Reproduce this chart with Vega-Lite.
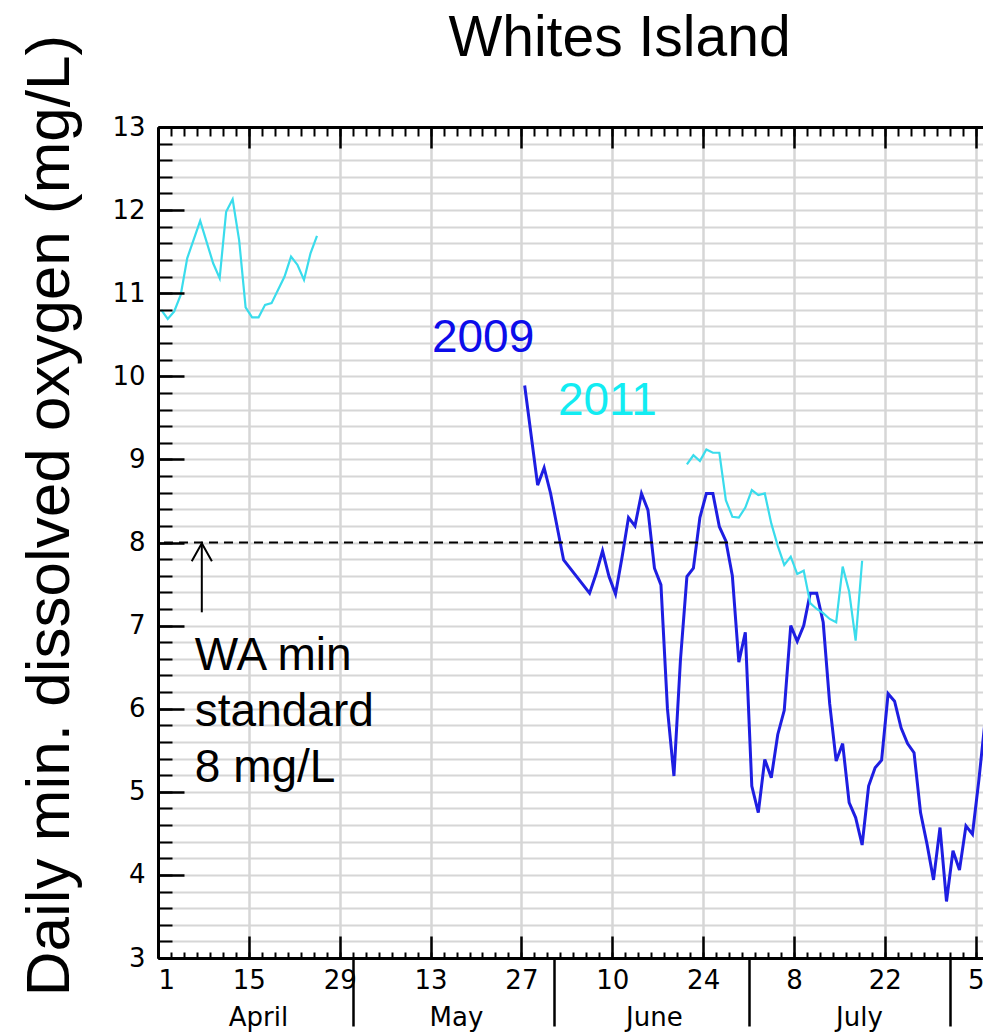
{
  "$schema": "https://vega.github.io/schema/vega-lite/v6.json",
  "width": 825,
  "height": 831,
  "autosize": {"type": "none"},
  "padding": {"left": 158, "top": 127, "right": 0, "bottom": 74},
  "background": "white",
  "config": {"view": {"stroke": null}, "font": "Liberation Sans"},
  "title": {
    "text": "Whites Island",
    "font": "Liberation Sans",
    "fontSize": 57,
    "fontWeight": "normal",
    "color": "black",
    "anchor": "middle",
    "frame": "group",
    "dx": 49,
    "offset": -79,
    "baseline": "alphabetic"
  },
  "datasets": {
    "do": [
      {"date": "2011-04-01T12:00:00", "year": 2011, "deploy": "a", "do": 10.80},
      {"date": "2011-04-02T12:00:00", "year": 2011, "deploy": "a", "do": 10.69},
      {"date": "2011-04-03T12:00:00", "year": 2011, "deploy": "a", "do": 10.78},
      {"date": "2011-04-04T12:00:00", "year": 2011, "deploy": "a", "do": 10.98},
      {"date": "2011-04-05T12:00:00", "year": 2011, "deploy": "a", "do": 11.42},
      {"date": "2011-04-07T12:00:00", "year": 2011, "deploy": "a", "do": 11.87},
      {"date": "2011-04-09T12:00:00", "year": 2011, "deploy": "a", "do": 11.36},
      {"date": "2011-04-10T12:00:00", "year": 2011, "deploy": "a", "do": 11.18},
      {"date": "2011-04-11T12:00:00", "year": 2011, "deploy": "a", "do": 11.98},
      {"date": "2011-04-12T12:00:00", "year": 2011, "deploy": "a", "do": 12.13},
      {"date": "2011-04-13T12:00:00", "year": 2011, "deploy": "a", "do": 11.64},
      {"date": "2011-04-14T12:00:00", "year": 2011, "deploy": "a", "do": 10.83},
      {"date": "2011-04-15T12:00:00", "year": 2011, "deploy": "a", "do": 10.71},
      {"date": "2011-04-16T12:00:00", "year": 2011, "deploy": "a", "do": 10.71},
      {"date": "2011-04-17T12:00:00", "year": 2011, "deploy": "a", "do": 10.86},
      {"date": "2011-04-18T12:00:00", "year": 2011, "deploy": "a", "do": 10.88},
      {"date": "2011-04-20T12:00:00", "year": 2011, "deploy": "a", "do": 11.20},
      {"date": "2011-04-21T12:00:00", "year": 2011, "deploy": "a", "do": 11.44},
      {"date": "2011-04-22T12:00:00", "year": 2011, "deploy": "a", "do": 11.34},
      {"date": "2011-04-23T12:00:00", "year": 2011, "deploy": "a", "do": 11.16},
      {"date": "2011-04-24T12:00:00", "year": 2011, "deploy": "a", "do": 11.48},
      {"date": "2011-04-25T12:00:00", "year": 2011, "deploy": "a", "do": 11.69},
      {"date": "2011-06-21T12:00:00", "year": 2011, "deploy": "b", "do": 8.94},
      {"date": "2011-06-22T12:00:00", "year": 2011, "deploy": "b", "do": 9.05},
      {"date": "2011-06-23T12:00:00", "year": 2011, "deploy": "b", "do": 8.98},
      {"date": "2011-06-24T12:00:00", "year": 2011, "deploy": "b", "do": 9.12},
      {"date": "2011-06-25T12:00:00", "year": 2011, "deploy": "b", "do": 9.08},
      {"date": "2011-06-26T12:00:00", "year": 2011, "deploy": "b", "do": 9.08},
      {"date": "2011-06-27T12:00:00", "year": 2011, "deploy": "b", "do": 8.51},
      {"date": "2011-06-28T12:00:00", "year": 2011, "deploy": "b", "do": 8.31},
      {"date": "2011-06-29T12:00:00", "year": 2011, "deploy": "b", "do": 8.30},
      {"date": "2011-06-30T12:00:00", "year": 2011, "deploy": "b", "do": 8.42},
      {"date": "2011-07-01T12:00:00", "year": 2011, "deploy": "b", "do": 8.63},
      {"date": "2011-07-02T12:00:00", "year": 2011, "deploy": "b", "do": 8.57},
      {"date": "2011-07-03T12:00:00", "year": 2011, "deploy": "b", "do": 8.59},
      {"date": "2011-07-04T12:00:00", "year": 2011, "deploy": "b", "do": 8.23},
      {"date": "2011-07-05T12:00:00", "year": 2011, "deploy": "b", "do": 7.96},
      {"date": "2011-07-06T12:00:00", "year": 2011, "deploy": "b", "do": 7.73},
      {"date": "2011-07-07T12:00:00", "year": 2011, "deploy": "b", "do": 7.83},
      {"date": "2011-07-08T12:00:00", "year": 2011, "deploy": "b", "do": 7.62},
      {"date": "2011-07-09T12:00:00", "year": 2011, "deploy": "b", "do": 7.66},
      {"date": "2011-07-10T12:00:00", "year": 2011, "deploy": "b", "do": 7.27},
      {"date": "2011-07-11T12:00:00", "year": 2011, "deploy": "b", "do": 7.20},
      {"date": "2011-07-12T12:00:00", "year": 2011, "deploy": "b", "do": 7.15},
      {"date": "2011-07-13T12:00:00", "year": 2011, "deploy": "b", "do": 7.08},
      {"date": "2011-07-14T12:00:00", "year": 2011, "deploy": "b", "do": 7.04},
      {"date": "2011-07-15T12:00:00", "year": 2011, "deploy": "b", "do": 7.71},
      {"date": "2011-07-16T12:00:00", "year": 2011, "deploy": "b", "do": 7.41},
      {"date": "2011-07-17T12:00:00", "year": 2011, "deploy": "b", "do": 6.82},
      {"date": "2011-07-18T12:00:00", "year": 2011, "deploy": "b", "do": 7.78},
      {"date": "2009-05-27T12:00:00", "year": 2009, "deploy": "c", "do": 9.89},
      {"date": "2009-05-29T12:00:00", "year": 2009, "deploy": "c", "do": 8.69},
      {"date": "2009-05-30T12:00:00", "year": 2009, "deploy": "c", "do": 8.90},
      {"date": "2009-05-31T12:00:00", "year": 2009, "deploy": "c", "do": 8.59},
      {"date": "2009-06-02T12:00:00", "year": 2009, "deploy": "c", "do": 7.79},
      {"date": "2009-06-06T12:00:00", "year": 2009, "deploy": "c", "do": 7.39},
      {"date": "2009-06-07T12:00:00", "year": 2009, "deploy": "c", "do": 7.62},
      {"date": "2009-06-08T12:00:00", "year": 2009, "deploy": "c", "do": 7.90},
      {"date": "2009-06-09T12:00:00", "year": 2009, "deploy": "c", "do": 7.59},
      {"date": "2009-06-10T12:00:00", "year": 2009, "deploy": "c", "do": 7.38},
      {"date": "2009-06-11T12:00:00", "year": 2009, "deploy": "c", "do": 7.82},
      {"date": "2009-06-12T12:00:00", "year": 2009, "deploy": "c", "do": 8.30},
      {"date": "2009-06-13T12:00:00", "year": 2009, "deploy": "c", "do": 8.20},
      {"date": "2009-06-14T12:00:00", "year": 2009, "deploy": "c", "do": 8.59},
      {"date": "2009-06-15T12:00:00", "year": 2009, "deploy": "c", "do": 8.39},
      {"date": "2009-06-16T12:00:00", "year": 2009, "deploy": "c", "do": 7.69},
      {"date": "2009-06-17T12:00:00", "year": 2009, "deploy": "c", "do": 7.49},
      {"date": "2009-06-18T12:00:00", "year": 2009, "deploy": "c", "do": 6.00},
      {"date": "2009-06-19T12:00:00", "year": 2009, "deploy": "c", "do": 5.19},
      {"date": "2009-06-20T12:00:00", "year": 2009, "deploy": "c", "do": 6.58},
      {"date": "2009-06-21T12:00:00", "year": 2009, "deploy": "c", "do": 7.59},
      {"date": "2009-06-22T12:00:00", "year": 2009, "deploy": "c", "do": 7.69},
      {"date": "2009-06-23T12:00:00", "year": 2009, "deploy": "c", "do": 8.30},
      {"date": "2009-06-24T12:00:00", "year": 2009, "deploy": "c", "do": 8.59},
      {"date": "2009-06-25T12:00:00", "year": 2009, "deploy": "c", "do": 8.59},
      {"date": "2009-06-26T12:00:00", "year": 2009, "deploy": "c", "do": 8.19},
      {"date": "2009-06-27T12:00:00", "year": 2009, "deploy": "c", "do": 8.02},
      {"date": "2009-06-28T12:00:00", "year": 2009, "deploy": "c", "do": 7.60},
      {"date": "2009-06-29T12:00:00", "year": 2009, "deploy": "c", "do": 6.56},
      {"date": "2009-06-30T12:00:00", "year": 2009, "deploy": "c", "do": 6.92},
      {"date": "2009-07-01T12:00:00", "year": 2009, "deploy": "c", "do": 5.07},
      {"date": "2009-07-02T12:00:00", "year": 2009, "deploy": "c", "do": 4.75},
      {"date": "2009-07-03T12:00:00", "year": 2009, "deploy": "c", "do": 5.39},
      {"date": "2009-07-04T12:00:00", "year": 2009, "deploy": "c", "do": 5.17},
      {"date": "2009-07-05T12:00:00", "year": 2009, "deploy": "c", "do": 5.69},
      {"date": "2009-07-06T12:00:00", "year": 2009, "deploy": "c", "do": 5.98},
      {"date": "2009-07-07T12:00:00", "year": 2009, "deploy": "c", "do": 7.00},
      {"date": "2009-07-08T12:00:00", "year": 2009, "deploy": "c", "do": 6.81},
      {"date": "2009-07-09T12:00:00", "year": 2009, "deploy": "c", "do": 7.00},
      {"date": "2009-07-10T12:00:00", "year": 2009, "deploy": "c", "do": 7.39},
      {"date": "2009-07-11T12:00:00", "year": 2009, "deploy": "c", "do": 7.39},
      {"date": "2009-07-12T12:00:00", "year": 2009, "deploy": "c", "do": 7.04},
      {"date": "2009-07-13T12:00:00", "year": 2009, "deploy": "c", "do": 6.06},
      {"date": "2009-07-14T12:00:00", "year": 2009, "deploy": "c", "do": 5.37},
      {"date": "2009-07-15T12:00:00", "year": 2009, "deploy": "c", "do": 5.58},
      {"date": "2009-07-16T12:00:00", "year": 2009, "deploy": "c", "do": 4.87},
      {"date": "2009-07-17T12:00:00", "year": 2009, "deploy": "c", "do": 4.69},
      {"date": "2009-07-18T12:00:00", "year": 2009, "deploy": "c", "do": 4.36},
      {"date": "2009-07-19T12:00:00", "year": 2009, "deploy": "c", "do": 5.07},
      {"date": "2009-07-20T12:00:00", "year": 2009, "deploy": "c", "do": 5.29},
      {"date": "2009-07-21T12:00:00", "year": 2009, "deploy": "c", "do": 5.38},
      {"date": "2009-07-22T12:00:00", "year": 2009, "deploy": "c", "do": 6.18},
      {"date": "2009-07-23T12:00:00", "year": 2009, "deploy": "c", "do": 6.09},
      {"date": "2009-07-24T12:00:00", "year": 2009, "deploy": "c", "do": 5.77},
      {"date": "2009-07-25T12:00:00", "year": 2009, "deploy": "c", "do": 5.58},
      {"date": "2009-07-26T12:00:00", "year": 2009, "deploy": "c", "do": 5.47},
      {"date": "2009-07-27T12:00:00", "year": 2009, "deploy": "c", "do": 4.75},
      {"date": "2009-07-28T12:00:00", "year": 2009, "deploy": "c", "do": 4.37},
      {"date": "2009-07-29T12:00:00", "year": 2009, "deploy": "c", "do": 3.94},
      {"date": "2009-07-30T12:00:00", "year": 2009, "deploy": "c", "do": 4.57},
      {"date": "2009-07-31T12:00:00", "year": 2009, "deploy": "c", "do": 3.68},
      {"date": "2009-08-01T12:00:00", "year": 2009, "deploy": "c", "do": 4.29},
      {"date": "2009-08-02T12:00:00", "year": 2009, "deploy": "c", "do": 4.06},
      {"date": "2009-08-03T12:00:00", "year": 2009, "deploy": "c", "do": 4.59},
      {"date": "2009-08-04T12:00:00", "year": 2009, "deploy": "c", "do": 4.49},
      {"date": "2009-08-05T12:00:00", "year": 2009, "deploy": "c", "do": 5.15},
      {"date": "2009-08-06T12:00:00", "year": 2009, "deploy": "c", "do": 5.90}
    ]
  },
  "layer": [
    {
      "data": {"name": "do"},
      "transform": [{"filter": "datum.year === 2009"}],
      "mark": {"type": "line", "color": "#1e1ee2", "strokeWidth": 3, "clip": true},
      "encoding": {
        "x": {
          "field": "date", "timeUnit": "monthdatehours", "type": "temporal",
          "scale": {"domain": [{"month": 4, "date": 1}, {"month": 8, "date": 6, "hours": 3}], "nice": false},
          "axis": {
            "orient": "bottom", "zindex": 0, "title": null,
            "values": [{"month": 4, "date": 1}, {"month": 4, "date": 15}, {"month": 4, "date": 29}, {"month": 5, "date": 13}, {"month": 5, "date": 27}, {"month": 6, "date": 10}, {"month": 6, "date": 24}, {"month": 7, "date": 8}, {"month": 7, "date": 22}, {"month": 8, "date": 5}],
            "labels": false, "ticks": false, "domain": false,
            "grid": true, "gridColor": "#d6d6d6", "gridWidth": 2.5
          }
        },
        "y": {
          "field": "do", "type": "quantitative",
          "scale": {"domain": [3, 13], "zero": false, "nice": false},
          "axis": {
            "orient": "left", "zindex": 0, "title": null,
            "values": [3.2, 3.4, 3.6, 3.8, 4, 4.2, 4.4, 4.6, 4.8, 5, 5.2, 5.4, 5.6, 5.8, 6, 6.2, 6.4, 6.6, 6.8, 7, 7.2, 7.4, 7.6, 7.8, 8, 8.2, 8.4, 8.6, 8.8, 9, 9.2, 9.4, 9.6, 9.8, 10, 10.2, 10.4, 10.6, 10.8, 11, 11.2, 11.4, 11.6, 11.8, 12, 12.2, 12.4, 12.6, 12.8],
            "labels": false, "ticks": false, "domain": false,
            "grid": true, "gridColor": "#d6d6d6", "gridWidth": 2
          }
        },
        "detail": {"field": "deploy"}
      }
    },
    {
      "data": {"name": "do"},
      "transform": [{"filter": "datum.year === 2011"}],
      "mark": {"type": "line", "color": "#3adcec", "strokeWidth": 2.2, "clip": true},
      "encoding": {
        "x": {
          "field": "date", "timeUnit": "monthdatehours", "type": "temporal",
          "scale": {"domain": [{"month": 4, "date": 1}, {"month": 8, "date": 6, "hours": 3}], "nice": false},
          "axis": {
            "orient": "bottom", "zindex": 1, "title": null,
            "values": [{"month": 4, "date": 1}, {"month": 4, "date": 15}, {"month": 4, "date": 29}, {"month": 5, "date": 13}, {"month": 5, "date": 27}, {"month": 6, "date": 10}, {"month": 6, "date": 24}, {"month": 7, "date": 8}, {"month": 7, "date": 22}, {"month": 8, "date": 5}],
            "format": "%-d", "labelFont": "DejaVu Sans", "labelFontSize": 26, "labelColor": "black",
            "labelPadding": 31, "labelOverlap": false,
            "tickSize": -22, "tickWidth": 2.5, "tickColor": "black",
            "domainColor": "black", "domainWidth": 3, "grid": false
          }
        },
        "y": {
          "field": "do", "type": "quantitative",
          "scale": {"domain": [3, 13], "zero": false, "nice": false},
          "axis": {
            "orient": "left", "zindex": 1,
            "values": [3, 4, 5, 6, 7, 8, 9, 10, 11, 12, 13],
            "labelFont": "DejaVu Sans", "labelFontSize": 26, "labelColor": "black", "labelPadding": 39,
            "tickSize": -26, "tickWidth": 2.5, "tickColor": "black",
            "domainColor": "black", "domainWidth": 3, "grid": false,
            "title": "Daily min. dissolved oxygen (mg/L)",
            "titleFont": "Liberation Sans", "titleFontSize": 62, "titleFontWeight": "normal", "titleColor": "black",
            "titleAngle": -90, "titleAlign": "center", "titleBaseline": "alphabetic",
            "titleX": -90, "titleY": 388
          }
        },
        "detail": {"field": "deploy"}
      }
    },
    {
      "data": {"values": [{}]},
      "mark": {"type": "rule", "color": "black", "strokeWidth": 2, "strokeDash": [9, 6]},
      "encoding": {
        "y": {"datum": 8, "type": "quantitative", "scale": {"domain": [3, 13], "zero": false, "nice": false}, "axis": null}
      }
    },
    {
      "data": {"values": [{}]},
      "mark": {"type": "rule", "color": "black", "strokeWidth": 2},
      "encoding": {
        "x": {
          "datum": {"month": 4, "date": 7, "hours": 18}, "type": "temporal",
          "scale": {"domain": [{"month": 4, "date": 1}, {"month": 8, "date": 6, "hours": 3}], "nice": false},
          "axis": {
            "orient": "bottom", "zindex": 1, "title": null,
            "values": [{"month": 4, "date": 1}, {"month": 4, "date": 3}, {"month": 4, "date": 5}, {"month": 4, "date": 7}, {"month": 4, "date": 9}, {"month": 4, "date": 11}, {"month": 4, "date": 13}, {"month": 4, "date": 15}, {"month": 4, "date": 17}, {"month": 4, "date": 19}, {"month": 4, "date": 21}, {"month": 4, "date": 23}, {"month": 4, "date": 25}, {"month": 4, "date": 27}, {"month": 4, "date": 29}, {"month": 5, "date": 1}, {"month": 5, "date": 3}, {"month": 5, "date": 5}, {"month": 5, "date": 7}, {"month": 5, "date": 9}, {"month": 5, "date": 11}, {"month": 5, "date": 13}, {"month": 5, "date": 15}, {"month": 5, "date": 17}, {"month": 5, "date": 19}, {"month": 5, "date": 21}, {"month": 5, "date": 23}, {"month": 5, "date": 25}, {"month": 5, "date": 27}, {"month": 5, "date": 29}, {"month": 5, "date": 31}, {"month": 6, "date": 2}, {"month": 6, "date": 4}, {"month": 6, "date": 6}, {"month": 6, "date": 8}, {"month": 6, "date": 10}, {"month": 6, "date": 12}, {"month": 6, "date": 14}, {"month": 6, "date": 16}, {"month": 6, "date": 18}, {"month": 6, "date": 20}, {"month": 6, "date": 22}, {"month": 6, "date": 24}, {"month": 6, "date": 26}, {"month": 6, "date": 28}, {"month": 6, "date": 30}, {"month": 7, "date": 2}, {"month": 7, "date": 4}, {"month": 7, "date": 6}, {"month": 7, "date": 8}, {"month": 7, "date": 10}, {"month": 7, "date": 12}, {"month": 7, "date": 14}, {"month": 7, "date": 16}, {"month": 7, "date": 18}, {"month": 7, "date": 20}, {"month": 7, "date": 22}, {"month": 7, "date": 24}, {"month": 7, "date": 26}, {"month": 7, "date": 28}, {"month": 7, "date": 30}, {"month": 8, "date": 1}, {"month": 8, "date": 3}, {"month": 8, "date": 5}],
            "labels": false, "tickSize": -6, "tickWidth": 2, "tickColor": "black", "domain": false, "grid": false
          }
        },
        "y": {"datum": 7.16, "type": "quantitative", "scale": {"domain": [3, 13], "zero": false, "nice": false},
          "axis": {
            "orient": "left", "zindex": 1, "title": null,
            "values": [3, 3.2, 3.4, 3.6, 3.8, 4, 4.2, 4.4, 4.6, 4.8, 5, 5.2, 5.4, 5.6, 5.8, 6, 6.2, 6.4, 6.6, 6.8, 7, 7.2, 7.4, 7.6, 7.8, 8, 8.2, 8.4, 8.6, 8.8, 9, 9.2, 9.4, 9.6, 9.8, 10, 10.2, 10.4, 10.6, 10.8, 11, 11.2, 11.4, 11.6, 11.8, 12, 12.2, 12.4, 12.6, 12.8, 13],
            "labels": false, "tickSize": -14, "tickWidth": 2, "tickColor": "black", "domain": false, "grid": false
          }
        },
        "y2": {"datum": 7.98}
      }
    },
    {
      "data": {"values": [{}]},
      "mark": {"type": "point", "shape": "M-0.56,1L0,0L0.56,1", "size": 1296, "filled": false, "stroke": "black", "strokeWidth": 2, "opacity": 1},
      "encoding": {
        "x": {
          "datum": {"month": 4, "date": 7, "hours": 18}, "type": "temporal",
          "scale": {"domain": [{"month": 4, "date": 1}, {"month": 8, "date": 6, "hours": 3}], "nice": false},
          "axis": {
            "orient": "top", "zindex": 1, "title": null,
            "values": [{"month": 4, "date": 1}, {"month": 4, "date": 15}, {"month": 4, "date": 29}, {"month": 5, "date": 13}, {"month": 5, "date": 27}, {"month": 6, "date": 10}, {"month": 6, "date": 24}, {"month": 7, "date": 8}, {"month": 7, "date": 22}, {"month": 8, "date": 5}],
            "labels": false, "tickSize": -21, "tickWidth": 2.5, "tickColor": "black",
            "domainColor": "black", "domainWidth": 3, "grid": false
          }
        },
        "y": {"datum": 7.99, "type": "quantitative", "scale": {"domain": [3, 13], "zero": false, "nice": false}, "axis": null}
      }
    },
    {
      "data": {"values": [{}]},
      "mark": {"type": "text", "text": ["WA min", "standard", "8 mg/L"], "font": "Liberation Sans", "fontSize": 46, "lineHeight": 56, "align": "left", "baseline": "alphabetic", "color": "black"},
      "encoding": {
        "x": {
          "datum": {"month": 4, "date": 6, "hours": 16}, "type": "temporal",
          "scale": {"domain": [{"month": 4, "date": 1}, {"month": 8, "date": 6, "hours": 3}], "nice": false},
          "axis": {
            "orient": "top", "zindex": 1, "title": null,
            "values": [{"month": 4, "date": 1}, {"month": 4, "date": 3}, {"month": 4, "date": 5}, {"month": 4, "date": 7}, {"month": 4, "date": 9}, {"month": 4, "date": 11}, {"month": 4, "date": 13}, {"month": 4, "date": 15}, {"month": 4, "date": 17}, {"month": 4, "date": 19}, {"month": 4, "date": 21}, {"month": 4, "date": 23}, {"month": 4, "date": 25}, {"month": 4, "date": 27}, {"month": 4, "date": 29}, {"month": 5, "date": 1}, {"month": 5, "date": 3}, {"month": 5, "date": 5}, {"month": 5, "date": 7}, {"month": 5, "date": 9}, {"month": 5, "date": 11}, {"month": 5, "date": 13}, {"month": 5, "date": 15}, {"month": 5, "date": 17}, {"month": 5, "date": 19}, {"month": 5, "date": 21}, {"month": 5, "date": 23}, {"month": 5, "date": 25}, {"month": 5, "date": 27}, {"month": 5, "date": 29}, {"month": 5, "date": 31}, {"month": 6, "date": 2}, {"month": 6, "date": 4}, {"month": 6, "date": 6}, {"month": 6, "date": 8}, {"month": 6, "date": 10}, {"month": 6, "date": 12}, {"month": 6, "date": 14}, {"month": 6, "date": 16}, {"month": 6, "date": 18}, {"month": 6, "date": 20}, {"month": 6, "date": 22}, {"month": 6, "date": 24}, {"month": 6, "date": 26}, {"month": 6, "date": 28}, {"month": 6, "date": 30}, {"month": 7, "date": 2}, {"month": 7, "date": 4}, {"month": 7, "date": 6}, {"month": 7, "date": 8}, {"month": 7, "date": 10}, {"month": 7, "date": 12}, {"month": 7, "date": 14}, {"month": 7, "date": 16}, {"month": 7, "date": 18}, {"month": 7, "date": 20}, {"month": 7, "date": 22}, {"month": 7, "date": 24}, {"month": 7, "date": 26}, {"month": 7, "date": 28}, {"month": 7, "date": 30}, {"month": 8, "date": 1}, {"month": 8, "date": 3}, {"month": 8, "date": 5}],
            "labels": false, "tickSize": -9, "tickWidth": 2, "tickColor": "black", "domain": false, "grid": false
          }
        },
        "y": {"datum": 6.47, "type": "quantitative", "scale": {"domain": [3, 13], "zero": false, "nice": false}, "axis": null}
      }
    },
    {
      "data": {"values": [{}]},
      "mark": {"type": "text", "text": "2009", "font": "Liberation Sans", "fontSize": 46, "align": "left", "baseline": "alphabetic", "color": "#0c0cea"},
      "encoding": {
        "x": {
          "datum": {"month": 5, "date": 13, "hours": 5}, "type": "temporal",
          "scale": {"domain": [{"month": 4, "date": 1}, {"month": 8, "date": 6, "hours": 3}], "nice": false},
          "axis": {
            "orient": "bottom", "zindex": 1, "title": null,
            "values": [{"month": 5, "date": 1}, {"month": 6, "date": 1}, {"month": 7, "date": 1}, {"month": 8, "date": 1}],
            "labels": false, "tickSize": 68, "tickWidth": 2.5, "tickColor": "black", "domain": false, "grid": false
          }
        },
        "y": {"datum": 10.29, "type": "quantitative", "scale": {"domain": [3, 13], "zero": false, "nice": false}, "axis": null}
      }
    },
    {
      "data": {"values": [{}]},
      "mark": {"type": "text", "text": "2011", "font": "Liberation Sans", "fontSize": 46, "align": "left", "baseline": "alphabetic", "color": "#12ecf2"},
      "encoding": {
        "x": {
          "datum": {"month": 6, "date": 1, "hours": 15}, "type": "temporal",
          "scale": {"domain": [{"month": 4, "date": 1}, {"month": 8, "date": 6, "hours": 3}], "nice": false},
          "axis": {
            "orient": "bottom", "zindex": 1, "title": null,
            "values": [{"month": 4, "date": 16, "hours": 10}, {"month": 5, "date": 16, "hours": 22}, {"month": 6, "date": 16, "hours": 10}, {"month": 7, "date": 18}],
            "format": "%B", "labelFont": "DejaVu Sans", "labelFontSize": 26, "labelColor": "black",
            "labelPadding": 46, "labelFlush": false, "labelOverlap": false,
            "ticks": false, "tickSize": 0, "domain": false, "grid": false
          }
        },
        "y": {"datum": 9.54, "type": "quantitative", "scale": {"domain": [3, 13], "zero": false, "nice": false}, "axis": null}
      }
    }
  ],
  "resolve": {"axis": {"x": "independent", "y": "independent"}}
}
